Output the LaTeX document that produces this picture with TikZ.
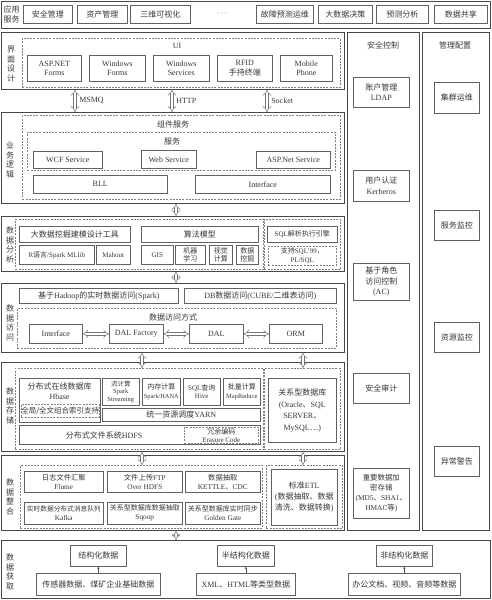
\documentclass[tikz,border=0pt]{standalone}
\usepackage{fontspec}
\setmainfont{Liberation Serif}
\newfontfamily\cn{Noto Sans CJK SC}
\usetikzlibrary{arrows.meta}
\newcommand\zh[1]{{\cn #1}}
\newcommand\Bx[7][box]{\node[#1,anchor=north west,minimum width={(#5-#3)*1pt},minimum height={(#6-#4)*1pt}] (#2) at (#3,#4) {#7};}
\colorlet{lc}{black!62}
\colorlet{fc}{black!72}
\colorlet{dc}{black!50}
\colorlet{tc}{black!78}
\begin{document}
\begin{tikzpicture}[x=1pt,y=-1pt,
  box/.style={draw=lc,line width=0.6pt,fill=white,inner sep=0pt,align=center,text=tc,font=\fontsize{8}{9.5}\selectfont},
  sbox/.style={box,font=\fontsize{7}{8.5}\selectfont},
  xbox/.style={box,font=\fontsize{6.5}{7.2}\selectfont},
  ibox/.style={box,font=\fontsize{7.3}{9}\selectfont},
  rbox/.style={box,font=\fontsize{8}{10.5}\selectfont},
  frame/.style={draw=fc,line width=0.8pt,inner sep=0pt},
  dbox/.style={draw=dc,dashed,dash pattern=on 2pt off 1.2pt,line width=0.6pt,inner sep=0pt,align=center,text=tc,font=\fontsize{7.5}{8.5}\selectfont},
  txt/.style={inner sep=0pt,align=center,text=tc,font=\fontsize{8}{9.5}\selectfont},
  vlab/.style={inner sep=0pt,align=center,text=tc,font=\cn\fontsize{8}{9.6}\selectfont},
  harrow/.style={draw=black!55,double=white,double distance=2.6pt,line width=0.5pt,arrows={Implies-Implies}},
  tarrow/.style={draw=black!70,line width=0.5pt,-{Stealth[length=2.5pt,width=2.2pt]}}
]
\useasboundingbox (0,0) rectangle (491,600);

% ---------- top strip ----------
\Bx[frame]{T}{1}{1}{490}{28}{}
\node[vlab,font=\cn\fontsize{8}{10}\selectfont] (tl) at (11.5,14.5) {应用\\服务};
\Bx{t1}{23}{5}{72}{23}{\zh{安全管理}}
\Bx{t2}{77}{5}{127}{23}{\zh{资产管理}}
\Bx{t3}{130}{5}{190}{23}{\zh{三维可视化}}
\node[txt] (tdots) at (222,14) {$\cdots$};
\Bx{t4}{256}{5}{313}{23}{\zh{故障预测运维}}
\Bx{t5}{318}{5}{372}{23}{\zh{大数据决策}}
\Bx{t6}{376}{5}{428}{23}{\zh{预测分析}}
\Bx{t7}{434}{5}{487}{23}{\zh{数据共享}}

% ---------- right columns ----------
\Bx[frame]{C1}{347}{32}{419}{530}{}
\node[vlab] (c1l) at (383,45) {安全控制};
\Bx[rbox]{r1}{353}{77}{409}{107}{\zh{账户管理}\\LDAP}
\Bx[rbox]{r2}{353}{170}{409}{201}{\zh{用户认证}\\Kerberos}
\Bx[rbox]{r3}{353}{263}{409}{300}{\zh{基于角色}\\\zh{访问控制}\\(AC)}
\Bx[rbox]{r4}{353}{373}{409}{403}{\zh{安全审计}}
\Bx[rbox,font=\fontsize{7.4}{10}\selectfont]{r5}{353}{468}{409}{518}{\zh{重要数据加}\\\zh{密存储}\\(MD5\zh{、}SHA1\zh{、}\\HMAC\zh{等})}
\Bx[frame]{C2}{422}{32}{489}{530}{}
\node[vlab] (c2l) at (455,45) {管理配置};
\Bx[rbox]{m1}{434}{82}{479}{113}{\zh{集群运维}}
\Bx[rbox]{m2}{434}{210}{479}{240}{\zh{服务监控}}
\Bx[rbox]{m3}{434}{322}{479}{352}{\zh{资源监控}}
\Bx[rbox]{m4}{434}{446}{479}{476}{\zh{异常警告}}

% ---------- UI layer ----------
\Bx[frame]{L1}{1}{32}{344}{89}{}
\node[vlab] (l1l) at (11,64) {界\\面\\设\\计};
\Bx[dbox]{D1}{22}{38}{340}{87}{}
\node[txt] (uil) at (177,46) {UI};
\Bx{u1}{27}{55}{81}{81}{ASP.NET\\Forms}
\Bx{u2}{89}{55}{145}{81}{Windows\\Forms}
\Bx{u3}{153}{55}{209}{81}{Windows\\Services}
\Bx{u4}{217}{55}{272}{81}{RFID\\\zh{手持终端}}
\Bx{u5}{280}{55}{332}{81}{Mobile\\Phone}

% ---------- business logic ----------
\Bx[frame]{L2}{1}{112}{344}{203}{}
\node[vlab] (l2l) at (10,160) {业\\务\\逻\\辑};
\Bx[dbox]{D2}{22}{115}{340}{199}{}
\node[txt] (d2l) at (173,124) {\zh{组件服务}};
\Bx[dbox]{D3}{27}{132}{335}{170}{}
\node[txt] (d3l) at (172,141) {\zh{服务}};
\Bx{w1}{33}{151}{102}{168}{WCF Service}
\Bx{w2}{141}{150}{196}{168}{Web Service}
\Bx{w3}{256}{151}{330}{168}{ASP.Net Service}
\Bx{w4}{33}{175}{167}{193}{BLL}
\Bx{w5}{195}{175}{330}{193}{Interface}

\coordinate (xm) at (75,0);
\coordinate (xh) at (172,0);
\coordinate (xs) at (267,0);
\draw[harrow] (L1.south -| xm) -- (L2.north -| xm) node[midway,right=4pt,txt] {MSMQ};
\draw[harrow] (L1.south -| xh) -- (L2.north -| xh) node[midway,right=4pt,txt] {HTTP};
\draw[harrow] (L1.south -| xs) -- (L2.north -| xs) node[midway,right=4pt,txt] {Socket};

% ---------- data analysis ----------
\Bx[frame]{L3}{1}{216}{344}{271}{}
\node[vlab] (l3l) at (10,245) {数\\据\\分\\析};
\Bx[dbox]{DA}{15}{219}{263}{269}{}
\Bx{a1}{19}{226}{130}{242}{\zh{大数据挖掘建模设计工具}}
\Bx{a2}{141}{226}{258}{242}{\zh{算法模型}}
\Bx[sbox]{a3}{19}{245}{94}{264}{R\zh{语言}/Spark MLlib}
\Bx[sbox]{a4}{96}{245}{130}{264}{Mahout}
\Bx[sbox]{a5}{141}{245}{173}{264}{GIS}
\Bx[sbox]{a6}{175}{245}{205}{264}{\zh{机器}\\\zh{学习}}
\Bx[sbox]{a7}{209}{245}{232}{264}{\zh{视觉}\\\zh{计算}}
\Bx[sbox]{a8}{236}{245}{258}{264}{\zh{数据}\\\zh{挖掘}}
\Bx[dbox]{DB}{264}{219}{340}{269}{}
\Bx[sbox]{a9}{267}{226}{337}{242}{SQL\zh{解析执行引擎}}
\Bx[dbox,font=\fontsize{7}{8.5}\selectfont]{a10}{268}{246}{336}{265}{\zh{支持}SQL'99\zh{，}\\PL/SQL}

\coordinate (xc) at (176,0);
\draw[harrow] (L2.south -| xc) -- (L3.north -| xc);

% ---------- data access ----------
\Bx[frame]{L4}{1}{283}{344}{352}{}
\node[vlab] (l4l) at (10,323) {数\\据\\访\\问};
\draw[harrow] (L3.south -| xc) -- (L4.north -| xc);
\Bx{b1}{19}{288}{178}{303}{\zh{基于}Hadoop\zh{的实时数据访问}(Spark)}
\Bx{b2}{184}{288}{336}{303}{DB\zh{数据访问}(CUBE/\zh{二维表访问})}
\Bx[dbox]{DC0}{17}{308}{336}{348}{}
\node[txt] (dc0l) at (173,317) {\zh{数据访问方式}};
\Bx{b3}{29}{324}{82}{343}{Interface}
\Bx{b4}{109}{324}{163}{343}{DAL Factory}
\Bx{b5}{189}{324}{243}{343}{DAL}
\Bx{b6}{269}{324}{322}{343}{ORM}
\draw[harrow] (b3) -- (b4);
\draw[harrow] (b4) -- (b5);
\draw[harrow] (b5) -- (b6);

% ---------- data storage ----------
\Bx[frame]{L5}{1}{362}{344}{451}{}
\node[vlab] (l5l) at (10,406) {数\\据\\存\\储};
\Bx[dbox]{DS}{15}{368}{263}{449}{}
\Bx[dbox]{DR}{264}{368}{340}{449}{}
\coordinate (xa) at (142,0);
\coordinate (xb) at (303,0);
\draw[harrow] (L4.south -| xa) -- (DS.north -| xa);
\draw[harrow] (L4.south -| xb) -- (DR.north -| xb);
\Bx{s1}{19}{378}{100}{422}{}
\node[txt] (s1t) at (59.5,391) {\zh{分布式在线数据库}\\Hbase};
\Bx[dbox]{s2}{21}{404}{98}{417}{\zh{全局/全文组合索引支持}}
\Bx[xbox]{s3}{102}{378}{139}{405}{\zh{流计算}\\Spark\\Streaming}
\Bx[sbox]{s4}{142}{378}{180}{405}{\zh{内存计算}\\{\fontsize{6.3}{8}\selectfont Spark/HANA}}
\Bx[sbox]{s5}{183}{378}{220}{405}{SQL\zh{查询}\\Hive}
\Bx[sbox]{s6}{223}{378}{260}{405}{\zh{批量计算}\\{\fontsize{6.5}{8}\selectfont MapReduce}}
\Bx{s7}{102}{408}{260}{421}{\zh{统一资源调度}YARN}
\Bx{s8}{19}{425}{260}{444}{}
\node[txt] (s8t) at (104,435) {\zh{分布式文件系统}HDFS};
\Bx[dbox,font=\fontsize{7}{8}\selectfont]{s9}{184}{427}{258}{443}{\zh{冗余编码}\\Erasure Code}
\Bx[box,font=\fontsize{8}{11.5}\selectfont]{s10}{268}{378}{336}{442}{\zh{关系型数据库}\\(Oracle\zh{、}SQL\\SERVER\zh{、}\\MySQL\zh{…})}

% ---------- data integration ----------
\Bx[frame]{L6}{1}{455}{344}{530}{}
\node[vlab] (l6l) at (10,497) {数\\据\\整\\合};
\Bx[dbox]{DE}{20}{465}{262}{528}{}
\Bx[dbox]{DF}{266}{465}{342}{528}{}
\draw[harrow] (L5.south -| xa) -- (DE.north -| xa);
\draw[harrow] (L5.south -| xb) -- (DF.north -| xb);
\Bx[ibox]{i1}{24}{471}{103}{492}{\zh{日志文件汇聚}\\Flume}
\Bx[ibox]{i2}{107}{471}{182}{492}{\zh{文件上传}FTP\\Over HDFS}
\Bx[ibox]{i3}{185}{471}{260}{492}{\zh{数据抽取}\\KETTLE\zh{、}CDC}
\Bx[ibox,font=\fontsize{6.7}{9}\selectfont]{i4}{24}{502}{103}{524}{\zh{实时数据分布式消息队列}\\{\fontsize{7.3}{9}\selectfont Kafka}}
\Bx[ibox,font=\fontsize{7}{9}\selectfont]{i5}{107}{502}{182}{524}{\zh{关系型数据库数据抽取}\\{\fontsize{7.3}{9}\selectfont Sqoop}}
\Bx[ibox,font=\fontsize{7}{9}\selectfont]{i6}{185}{502}{260}{524}{\zh{关系型数据库实时同步}\\{\fontsize{7.3}{9}\selectfont Golden Gate}}
\Bx[box,font=\fontsize{8}{11}\selectfont]{i7}{271}{469}{337}{525}{\zh{标准}ETL\\(\zh{数据抽取、数据}\\\zh{清洗、数据转换})}

% ---------- data acquisition ----------
\Bx[frame]{L7}{1}{540}{490}{598}{}
\node[vlab] (l7l) at (10,572) {数\\据\\获\\取};
\draw[harrow] (L6.south -| xc) -- (L7.north -| xc);
\Bx{g1}{70}{545}{126}{566}{\zh{结构化数据}}
\Bx{g2}{36}{573}{160}{595}{\zh{传感器数据、煤矿企业基础数据}}
\Bx{g3}{217}{545}{274}{566}{\zh{半结构化数据}}
\Bx{g4}{196}{573}{295}{595}{XML\zh{、}HTML\zh{等类型数据}}
\Bx{g5}{376}{545}{432}{566}{\zh{非结构化数据}}
\Bx{g6}{348}{573}{460}{595}{\zh{办公文档、视频、音频等数据}}
\draw[tarrow] (g2) -- (g1);
\draw[tarrow] (g4) -- (g3);
\draw[tarrow] (g6) -- (g5);
\end{tikzpicture}
\end{document}
